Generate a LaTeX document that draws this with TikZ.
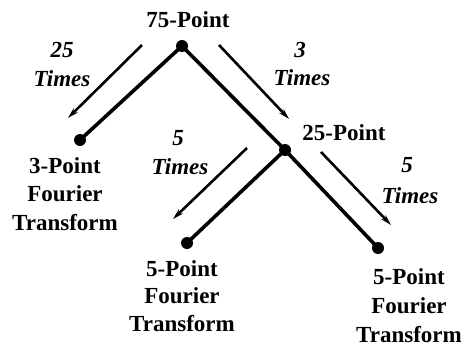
\documentclass[tikz,border=0pt]{standalone}
\usepackage{fontspec}
\setmainfont{Liberation Serif}
\usetikzlibrary{arrows.meta}
\begin{document}
\begin{tikzpicture}[x=1pt,y=-1pt,
  dot/.style={circle,fill=black,inner sep=0pt,minimum size=12pt},
  edge/.style={line width=3.6pt},
  arr/.style={line width=2.6pt,-{Stealth[length=11pt,width=6pt]}},
  lbl/.style={font=\fontsize{23}{28}\selectfont\bfseries\itshape,inner sep=0pt},
  txt/.style={font=\fontsize{23}{28}\selectfont\bfseries,inner sep=0pt,align=center}]
\useasboundingbox (0,0) rectangle (465,348);
% nodes
\node[dot] (root) at (182,46) {};
\node[dot] (left) at (80,140) {};
\node[dot] (mid) at (285,150) {};
\node[dot] (bl) at (187,243) {};
\node[dot] (br) at (378,248) {};
% texts
\node[txt] (t75) at (188,20) {75-Point};
\node[txt] (t25) at (344,133) {25-Point};
\node[txt,font=\fontsize{23}{28.5}\selectfont\bfseries] (t3) at (65,194) {3-Point\\Fourier\\Transform};
\node[txt,font=\fontsize{23}{27.5}\selectfont\bfseries] (t5a) at (182,296) {5-Point\\Fourier\\Transform};
\node[txt,font=\fontsize{23}{29}\selectfont\bfseries] (t5b) at (409,306) {5-Point\\Fourier\\Transform};
% tree edges
\draw[edge] (root.center) -- (left.center);
\draw[edge] (root.center) -- (mid.center);
\draw[edge] (mid.center) -- (bl.center);
\draw[edge] (mid.center) -- (br.center);
% arrows
\coordinate (a1s) at (142,45); \coordinate (a1e) at (68,118);
\coordinate (a2s) at (219,45); \coordinate (a2e) at (289,119);
\coordinate (a3s) at (247,148); \coordinate (a3e) at (173,219);
\coordinate (a4s) at (321,152); \coordinate (a4e) at (391,225);
\draw[arr] (a1s) -- (a1e);
\draw[arr] (a2s) -- (a2e);
\draw[arr] (a3s) -- (a3e);
\draw[arr] (a4s) -- (a4e);
% labels
\node[lbl] (n25) at (62,50) {25};
\node[lbl] (tm1) at (62,79) {Times};
\node[lbl] (n3) at (300,50) {3};
\node[lbl] (tm2) at (302,78) {Times};
\node[lbl] (n5a) at (178,138) {5};
\node[lbl] (tm3) at (180,167) {Times};
\node[lbl] (n5b) at (407,165) {5};
\node[lbl] (tm4) at (410,196) {Times};
\end{tikzpicture}
\end{document}
